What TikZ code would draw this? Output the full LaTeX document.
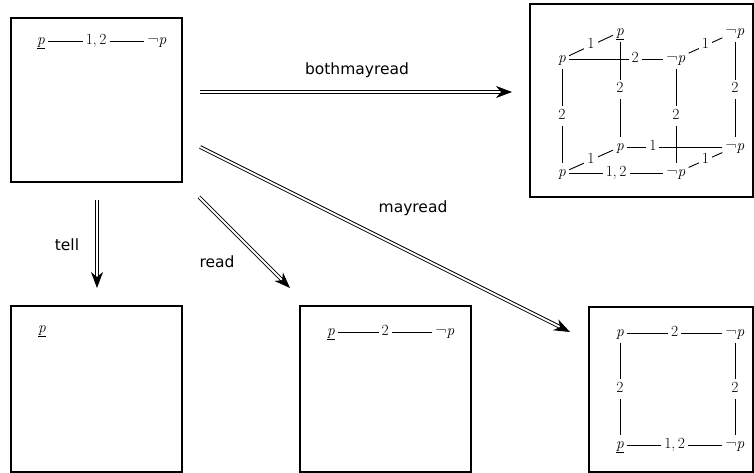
\documentclass[tikz,border=0pt]{standalone}
\usepackage{fontspec}
\setmainfont{Latin Modern Roman}
\newfontfamily\labfont{DejaVu Sans}
\usetikzlibrary{arrows.meta}
\newcommand{\vP}{\textit{p}}
\newcommand{\vU}{\underline{\textit{p}}}
\newcommand{\vN}{¬\textit{p}}
\tikzset{
  mtxt/.style={inner sep=3pt,text height=10pt,text depth=3.5pt,font=\fontsize{15.5}{18}\selectfont},
  mlbl/.style={mtxt,fill=white},
}
\begin{document}
\begin{tikzpicture}[x=1pt,y=-1pt,
  box/.style={draw,line width=1.3pt,inner sep=0pt},
  ln/.style={line width=0.9pt},
  dbl/.style={double,double distance=2pt,line width=0.9pt,-{Stealth[length=16pt,width=12pt,inset=5pt]}},
  albl/.style={font=\labfont\fontsize{15.5}{18}\selectfont,inner sep=0pt}]
\useasboundingbox (0,0) rectangle (754,473);
% boxes
\node[box,minimum width=171pt,minimum height=164pt] (b1) at (96.5,100) {};
\node[box,minimum width=223pt,minimum height=193pt] (b3) at (641.5,100.5) {};
\node[box,minimum width=171pt,minimum height=166pt] (b4) at (96.5,389) {};
\node[box,minimum width=171pt,minimum height=166pt] (b5) at (385.5,389) {};
\node[box,minimum width=164pt,minimum height=165pt] (b6) at (671,389.5) {};
% box 1
\node[mtxt] (a1) at (41,41) {\vU};
\node[mtxt] (a2) at (157,41) {\vN};
\draw[ln] (a1) -- node[mlbl]{1,\,2} (a2);
% box 4
\node[mtxt] (c1) at (42,329) {\vU};
% box 5
\node[mtxt] (d1) at (331,332) {\vU};
\node[mtxt] (d2) at (445,332) {\vN};
\draw[ln] (d1) -- node[mlbl]{2} (d2);
% box 6
\node[mtxt] (e1) at (620,333) {\vP};
\node[mtxt] (e2) at (735,333) {\vN};
\node[mtxt] (e3) at (620,445) {\vU};
\node[mtxt] (e4) at (735,445) {\vN};
\draw[ln] (e1) -- node[mlbl]{2} (e2);
\draw[ln] (e1) -- node[mlbl]{2} (e3);
\draw[ln] (e2) -- node[mlbl]{2} (e4);
\draw[ln] (e3) -- node[mlbl]{1,\,2} (e4);
% cube
\node[mtxt] (ftl) at (562,59) {\vP};
\node[mtxt] (btl) at (620,32) {\vU};
\node[mtxt] (ftr) at (676,59) {\vN};
\node[mtxt] (btr) at (735,32) {\vN};
\node[mtxt] (bbl) at (620,147) {\vP};
\node[mtxt] (bbr) at (735,147) {\vN};
\node[mtxt] (fbl) at (562,173) {\vP};
\node[mtxt] (fbr) at (676,173) {\vN};
\draw[ln] (ftl) -- node[mlbl]{1} (btl);
\draw[ln] (ftr) -- node[mlbl]{1} (btr);
\draw[ln] (fbl) -- node[mlbl]{1} (bbl);
\draw[ln] (fbr) -- node[mlbl]{1} (bbr);
\draw[ln] (btl) -- node[mlbl]{2} (bbl);
\draw[ln] (btr) -- node[mlbl]{2} (bbr);
\draw[ln] (ftl) -- node[mlbl]{2} (fbl);
\draw[ln] (ftr) -- node[mlbl]{2} (fbr);
\draw[ln] (ftl) -- node[mlbl,pos=0.7]{2} (ftr);
\draw[ln] (bbl) -- node[mlbl,pos=0.27]{1} (bbr);
\draw[ln] (fbl) -- node[mlbl]{1,\,2} (fbr);
% arrows
\coordinate (s1) at (200,92);  \coordinate (t1) at (512,92);
\coordinate (s2) at (97,200);  \coordinate (t2) at (97,288);
\coordinate (s3) at (199,197); \coordinate (t3) at (290,288);
\coordinate (s4) at (200,147); \coordinate (t4) at (570,332);
\draw[dbl] (s1) -- (t1);
\draw[dbl] (s2) -- (t2);
\draw[dbl] (s3) -- (t3);
\draw[dbl] (s4) -- (t4);
\node[albl] (l1) at (357,70) {bothmayread};
\node[albl] (l2) at (67,245) {tell};
\node[albl] (l3) at (217,262) {read};
\node[albl] (l4) at (413,208) {mayread};
\end{tikzpicture}
\end{document}
